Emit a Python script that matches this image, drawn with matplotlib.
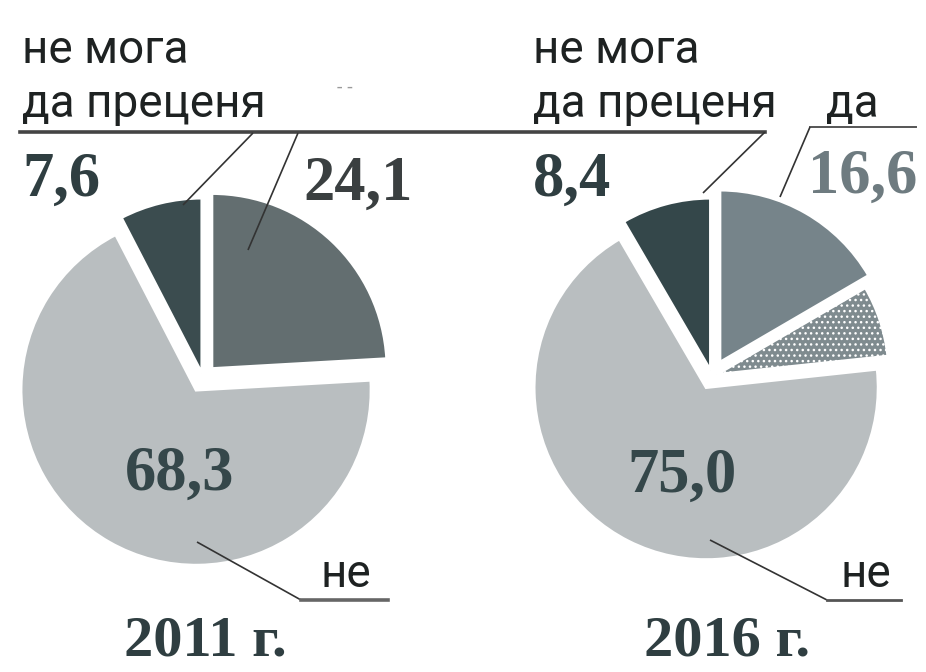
import matplotlib.pyplot as plt

# slices, clockwise from 12 o'clock
values_2011 = [24.1, 68.3, 7.6]          # да, не, не мога да преценя
colors_2011 = ["#636e70", "#b9bec0", "#3b4c4f"]
explode_2011 = [13, 14, 5]

values_2016 = [16.6, 6.7, 68.3, 8.4]     # да, не (speckled part), не, не мога да преценя
colors_2016 = ["#76848a", "#7f8b8f", "#b9bec0", "#34474a"]
explode_2016 = [16, 5, 13, 6]

labels_2011 = ["24,1", "68,3", "7,6"]
labels_2016 = ["16,6", "75,0", "8,4"]
years = ["2011 г.", "2016 г."]

H = 672


def P(y):
    # picture row -> data y
    return H - y


fig = plt.figure(figsize=(9.26, 6.72), dpi=100)
ax = fig.add_axes([0, 0, 1, 1])

wedges, _ = ax.pie(values_2011, colors=colors_2011, startangle=90, counterclock=False,
                   center=(203, P(378)), radius=175, explode=explode_2011,
                   wedgeprops=dict(edgecolor="white", linewidth=2))

wedges2, _ = ax.pie(values_2016, colors=colors_2016, startangle=90, counterclock=False,
                    center=(712, P(376)), radius=172, explode=explode_2016,
                    wedgeprops=dict(edgecolor="white", linewidth=2))
wedges2[1].set_hatch("...")

ax.set_xlim(0, 926)
ax.set_ylim(0, H)
ax.set_aspect("equal")
ax.axis("off")

sans = ["Roboto", "DejaVu Sans"]
serif = ["Liberation Serif", "DejaVu Serif"]
dark = "#2f3e41"
ink = "#1e2222"

# category labels
lab = dict(family=sans, fontsize=33, color=ink, va="baseline")
ax.text(22, P(63), "не мога", **lab)
ax.text(22, P(117), "да преценя", **lab)
ax.text(533, P(63), "не мога", **lab)
ax.text(533, P(117), "да преценя", **lab)
ax.text(826, P(117), "да", **lab)
ax.text(320, P(587), "не", **lab)
ax.text(840, P(587), "не", **lab)
ax.text(345, P(88), "- -", family=sans, fontsize=14, color="#9a9a9a", ha="center", va="center")

# leader lines
line = dict(color="#333", lw=1.2, solid_capstyle="butt")
ax.plot([20, 765], [P(132), P(132)], color="#444", lw=2.6)
ax.plot([253, 183], [P(133), P(205)], **line)
ax.plot([298, 248], [P(133), P(250)], **line)
ax.plot([765, 703], [P(132), P(193)], **line)
ax.plot([810, 916], [P(127), P(127)], color="#555", lw=1.4)
ax.plot([810, 780], [P(127), P(197)], **line)
ax.plot([197, 301], [P(542), P(600)], **line)
ax.plot([301, 388], [P(600), P(600)], color="#666", lw=2.6)
ax.plot([710, 827], [P(540), P(600)], **line)
ax.plot([827, 901], [P(600), P(600)], color="#555", lw=2.0)

# values
num = dict(family=serif, fontsize=45, fontweight="bold", va="baseline")
ax.text(303, P(200), labels_2011[0], color="#3a3f40", **num)
ax.text(125, P(490), labels_2011[1], color="#35474a", **num)
ax.text(22, P(196), labels_2011[2], color=dark, **num)
ax.text(808, P(193), labels_2016[0], color="#6e7b80", **num)
ax.text(627, P(492), labels_2016[1], color="#35474a", **num)
ax.text(533, P(196), labels_2016[2], color=dark, **num)

yr = dict(family=serif, fontsize=42, fontweight="bold", va="baseline", ha="center", color=dark)
ax.text(205, P(656), years[0], **yr)
ax.text(727, P(656), years[1], **yr)

fig.savefig("out.png", dpi=100, facecolor="white")
